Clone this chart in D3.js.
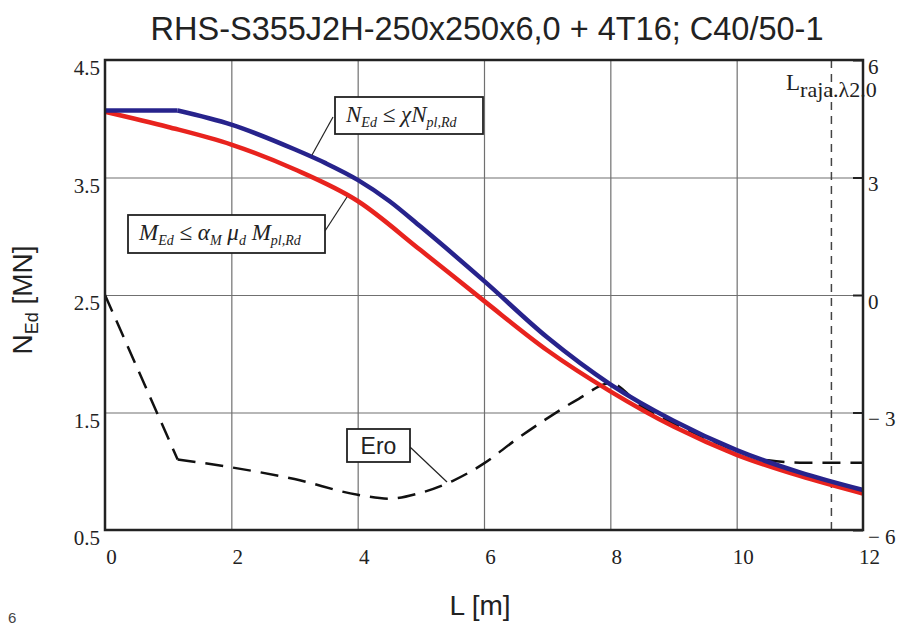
<!DOCTYPE html>
<html>
<head>
<meta charset="utf-8">
<script src="https://cdn.jsdelivr.net/npm/d3@7"></script>
<style>
  body { margin: 0; background: #fff; }
  svg { display: block; }
</style>
</head>
<body>
<div id="chart"></div>
<script>
// buckling length L [m]
var lengths = [0, 1.15, 2, 3, 3.5, 4, 4.5, 5, 6, 7, 8, 9, 10, 11, 12];
// N_Ed <= chi N_pl,Rd  [MN]
var nBuckling = [4.07, 4.07, 3.95, 3.74, 3.62, 3.48, 3.30, 3.08, 2.62, 2.14, 1.74, 1.43, 1.18, 0.99, 0.84];

var redLengths = [0, 1, 2, 3, 4, 5, 6, 7, 8, 9, 10, 11, 12];
// M_Ed <= alpha_M mu_d M_pl,Rd  [MN]
var nMoment = [4.06, 3.93, 3.78, 3.57, 3.30, 2.88, 2.45, 2.03, 1.68, 1.38, 1.14, 0.96, 0.81];

// difference "Ero" on the right axis
var eroLengths = [0, 1.15, 2, 3, 4, 4.5, 5, 5.5, 6, 6.5, 7, 7.5, 8, 8.5, 9, 9.5, 10, 10.5, 11, 12];
var eroValues = [0, -4.2, -4.4, -4.7, -5.1, -5.2, -5.05, -4.75, -4.3, -3.7, -3.15, -2.65, -2.25, -2.85, -3.28, -3.65, -3.98, -4.22, -4.28, -4.28];

var lRaja = 11.5;

var xTicks = [0, 2, 4, 6, 8, 10, 12];
var yTicks = [0.5, 1.5, 2.5, 3.5, 4.5];
var yRightTicks = [-6, -3, 0, 3, 6];

var margin = { top: 60, right: 37, bottom: 96, left: 105 },
    width = 900 - margin.left - margin.right,
    height = 626 - margin.top - margin.bottom;

var svg = d3.select("#chart")
    .append("svg")
    .attr("width", 900)
    .attr("height", 626);

var g = svg.append("g")
    .attr("transform", "translate(" + margin.left + "," + margin.top + ")");

var x = d3.scaleLinear().domain([0, 12]).range([0, width]);
var y = d3.scaleLinear().domain([0.5, 4.5]).range([height, 0]);
var yR = d3.scaleLinear().domain([-6, 6]).range([height, 0]);

var serif = "'Liberation Serif', 'Times New Roman', serif";
var sans = "'Liberation Sans', Arial, sans-serif";

// grid
g.append("g")
    .attr("transform", "translate(0," + height + ")")
    .call(d3.axisBottom(x).tickValues(xTicks.slice(1, -1)).tickSize(-height).tickFormat(""))
    .call(a => a.select(".domain").remove())
    .selectAll("line").attr("stroke", "#707070").attr("stroke-width", 1.2);
g.append("g")
    .call(d3.axisLeft(y).tickValues(yTicks.slice(1, -1)).tickSize(-width).tickFormat(""))
    .call(a => a.select(".domain").remove())
    .selectAll("line").attr("stroke", "#707070").attr("stroke-width", 1.2);

// L_raja dashed vertical
g.append("line")
    .attr("x1", x(lRaja)).attr("x2", x(lRaja))
    .attr("y1", 0).attr("y2", height)
    .attr("stroke", "#444")
    .attr("stroke-width", 1.5)
    .attr("stroke-dasharray", "8,6");

// draws a series: straight first segment (kink at the 2nd point), smooth after
function drawSeries(ls, vs, yScale, stroke, sw, dash) {
    var data = ls.map((l, i) => ({ l: l, v: vs[i] }));
    var parts = [[data.slice(0, 2), d3.curveLinear], [data.slice(1), d3.curveMonotoneX]];
    parts.forEach(p => {
        g.append("path")
            .datum(p[0])
            .attr("fill", "none")
            .attr("stroke", stroke)
            .attr("stroke-width", sw)
            .attr("stroke-dasharray", dash)
            .attr("d", d3.line()
                .x(d => x(d.l))
                .y(d => yScale(d.v))
                .curve(p[1]));
    });
}

// Ero dashed line
drawSeries(eroLengths, eroValues, yR, "#111", 2.5, "18,10");

// red curve
g.append("path")
    .datum(redLengths.map((l, i) => ({ l: l, v: nMoment[i] })))
    .attr("fill", "none")
    .attr("stroke", "#e8231e")
    .attr("stroke-width", 4.5)
    .attr("d", d3.line()
        .x(d => x(d.l))
        .y(d => y(d.v))
        .curve(d3.curveMonotoneX));

// blue curve
drawSeries(lengths, nBuckling, y, "#27238c", 4.5, null);

// frame
g.append("rect")
    .attr("width", width)
    .attr("height", height)
    .attr("fill", "none")
    .attr("stroke", "#222")
    .attr("stroke-width", 2.5);

// left axis labels
var yAxis = g.append("g")
    .call(d3.axisLeft(y).tickValues(yTicks).tickSize(0).tickPadding(5).tickFormat(d3.format(".1f")));
yAxis.select(".domain").remove();
yAxis.selectAll("text")
    .attr("dy", "0.7em")
    .attr("fill", "#222")
    .style("font-family", serif)
    .style("font-size", "21px");

// bottom axis labels
var xAxis = g.append("g")
    .attr("transform", "translate(0," + height + ")")
    .call(d3.axisBottom(x).tickValues(xTicks).tickSize(0).tickFormat(d3.format("d")));
xAxis.select(".domain").remove();
xAxis.selectAll("text")
    .attr("y", 19)
    .attr("dx", 6)
    .attr("fill", "#222")
    .style("font-family", serif)
    .style("font-size", "21px");

// right axis
var rAxis = g.append("g")
    .attr("transform", "translate(" + width + ",0)")
    .call(d3.axisRight(yR).tickValues(yRightTicks).tickSize(-10).tickPadding(5)
        .tickFormat(d => d < 0 ? "\u2212 " + (-d) : d));
rAxis.select(".domain").remove();
rAxis.selectAll("line").attr("stroke", "#222").attr("stroke-width", 2);
rAxis.selectAll("text")
    .attr("dy", "0.62em")
    .attr("fill", "#222")
    .style("font-family", serif)
    .style("font-size", "21px");

// formula boxes with leader lines
function formulaBox(bx, by, bw, bh, parts, lx1, ly1, lx2, ly2) {
    g.append("line")
        .attr("x1", lx1 - margin.left).attr("y1", ly1 - margin.top)
        .attr("x2", lx2 - margin.left).attr("y2", ly2 - margin.top)
        .attr("stroke", "#222").attr("stroke-width", 1.2);
    g.append("rect")
        .attr("x", bx - margin.left).attr("y", by - margin.top)
        .attr("width", bw).attr("height", bh)
        .attr("fill", "#fff")
        .attr("stroke", "#222")
        .attr("stroke-width", 1.8);
    var t = g.append("text")
        .attr("x", bx - margin.left + 11)
        .attr("y", by - margin.top + bh / 2 + 6)
        .attr("fill", "#222")
        .style("font-family", serif)
        .style("font-style", "italic")
        .style("font-size", "23px");
    parts.forEach(p => {
        t.append("tspan")
            .attr("dy", p.sub ? 5 : (p.after ? -5 : 0))
            .style("font-size", p.sub ? "14px" : "23px")
            .text(p.t);
    });
}

formulaBox(335, 97, 148, 37, [
    { t: "N" }, { t: "Ed", sub: true }, { t: " \u2264 \u03c7N", after: true }, { t: "pl,Rd", sub: true }
], 333, 117, 312, 155);

formulaBox(128, 215, 197, 38, [
    { t: "M" }, { t: "Ed", sub: true }, { t: " \u2264 \u03b1", after: true }, { t: "M", sub: true },
    { t: " \u03bc", after: true }, { t: "d", sub: true }, { t: " M", after: true }, { t: "pl,Rd", sub: true }
], 325, 231, 347, 197);

// Ero label
g.append("line")
    .attr("x1", 410 - margin.left).attr("y1", 447 - margin.top)
    .attr("x2", 447 - margin.left).attr("y2", 482 - margin.top)
    .attr("stroke", "#222").attr("stroke-width", 1.2);
g.append("rect")
    .attr("x", 347 - margin.left).attr("y", 429 - margin.top)
    .attr("width", 63).attr("height", 33)
    .attr("fill", "#fff")
    .attr("stroke", "#222")
    .attr("stroke-width", 1.8);
g.append("text")
    .attr("x", 378.5 - margin.left)
    .attr("y", 454 - margin.top)
    .attr("text-anchor", "middle")
    .attr("fill", "#222")
    .style("font-family", sans)
    .style("font-size", "23px")
    .text("Ero");

// L_raja label
var lr = g.append("text")
    .attr("x", 786 - margin.left)
    .attr("y", 90 - margin.top)
    .attr("fill", "#222")
    .style("font-family", serif)
    .style("font-size", "23px");
lr.append("tspan").text("L");
lr.append("tspan").attr("dy", 7).style("font-size", "22px").text("raja.\u03bb2.0");

// title and axis titles
svg.append("text")
    .attr("x", 487)
    .attr("y", 40)
    .attr("text-anchor", "middle")
    .attr("fill", "#222")
    .style("font-family", sans)
    .style("font-size", "32.5px")
    .text("RHS-S355J2H-250x250x6,0 + 4T16; C40/50-1");

svg.append("text")
    .attr("x", 480)
    .attr("y", 615)
    .attr("text-anchor", "middle")
    .attr("fill", "#222")
    .style("font-family", sans)
    .style("font-size", "28px")
    .text("L [m]");

var yl = svg.append("text")
    .attr("transform", "translate(32,300) rotate(-90)")
    .attr("text-anchor", "middle")
    .attr("fill", "#222")
    .style("font-family", sans)
    .style("font-size", "28px");
yl.append("tspan").text("N");
yl.append("tspan").attr("dy", 6).style("font-size", "18px").text("Ed");
yl.append("tspan").attr("dy", -6).text(" [MN]");

// page number
svg.append("text")
    .attr("x", 8)
    .attr("y", 623)
    .attr("fill", "#444")
    .style("font-family", sans)
    .style("font-size", "15px")
    .text("6");
</script>
</body>
</html>
